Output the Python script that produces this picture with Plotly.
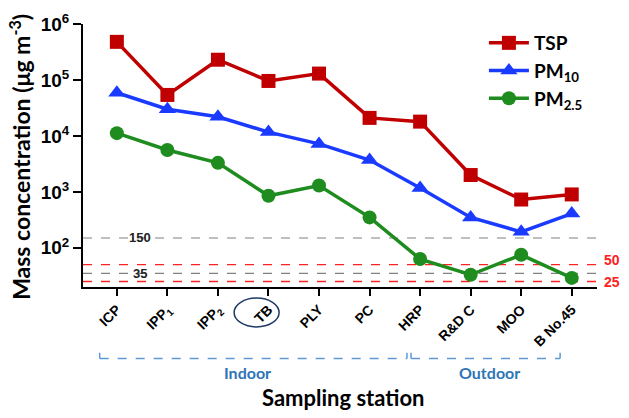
import plotly.graph_objects as go
import numpy as np

stations = ["ICP", "IPP<sub>1</sub>", "IPP<sub>2</sub>", "TB", "PLY", "PC", "HRP", "R&D C", "MOO", "B No.45"]
tsp = [480000, 54000, 230000, 96000, 130000, 21000, 18000, 2000, 730, 900]
pm10 = [59000, 30000, 22000, 11700, 7200, 3700, 1170, 350, 193, 410]
pm25 = [11200, 5600, 3300, 850, 1300, 350, 63, 33, 75, 29]
gray_refs = [150, 35]
red_refs = [50, 25]
ytick_vals = [100, 1000, 10000, 100000, 1000000]
ytick_text = ["10<sup>2</sup>", "10<sup>3</sup>", "10<sup>4</sup>", "10<sup>5</sup>", "10<sup>6</sup>"]

x = list(range(len(stations)))
xr = [-0.67, 9.5]

fig = go.Figure()

for v in gray_refs:
    fig.add_trace(go.Scatter(x=xr, y=[v, v], mode="lines", showlegend=False,
                             line=dict(color="#808080", width=1.2, dash="dash"), hoverinfo="skip"))
for v in red_refs:
    fig.add_trace(go.Scatter(x=xr, y=[v, v], mode="lines", showlegend=False,
                             line=dict(color="#FF2020", width=1.4, dash="dash"), hoverinfo="skip"))

fig.add_trace(go.Scatter(x=x, y=tsp, name="TSP", mode="lines+markers",
                         line=dict(color="#C00000", width=3.5),
                         marker=dict(symbol="square", size=14, color="#C00000")))
fig.add_trace(go.Scatter(x=x, y=pm10, name="PM<sub>10</sub>", mode="lines+markers",
                         line=dict(color="#1A3BFF", width=3.5),
                         marker=dict(symbol="triangle-up", size=15, color="#1A3BFF")))
fig.add_trace(go.Scatter(x=x, y=pm25, name="PM<sub>2.5</sub>", mode="lines+markers",
                         line=dict(color="#1E8C1E", width=3.5),
                         marker=dict(symbol="circle", size=14, color="#1E8C1E")))

fig.update_layout(
    width=621, height=410,
    margin=dict(l=75, r=32, t=16, b=131, autoexpand=False),
    plot_bgcolor="white", paper_bgcolor="white",
    font=dict(family="Liberation Sans, Arial", color="black"),
    showlegend=True,
    legend=dict(x=0.78, y=1.0, xanchor="left", yanchor="top",
                font=dict(family="Lato, Liberation Sans", size=19, weight="bold", color="black"),
                bgcolor="rgba(0,0,0,0)", itemwidth=40, tracegroupgap=0),
    xaxis=dict(range=xr, tickmode="array", tickvals=x, ticktext=stations, automargin=False,
               tickangle=-45, showline=True, linecolor="black", linewidth=2,
               ticks="outside", ticklen=7, tickwidth=2, tickcolor="black",
               showgrid=False, zeroline=False,
               tickfont=dict(size=14, weight="bold", family="Liberation Sans, Arial")),
    yaxis=dict(type="log", range=[1.30, 6.0], tickmode="array", tickvals=ytick_vals, automargin=False,
               ticktext=ytick_text, showline=True, linecolor="black", linewidth=2,
               ticks="outside", ticklen=8, tickwidth=2, tickcolor="black",
               showgrid=False, zeroline=False,
               tickfont=dict(size=19, weight="bold", family="Liberation Sans, Arial")),
)

anns = []
anns.append(dict(x=0.45, y=np.log10(gray_refs[0]), xref="x", yref="y", text="150", showarrow=False,
                 font=dict(size=13, weight="bold", color="#222222"), yanchor="middle"))
anns.append(dict(x=0.45, y=np.log10(gray_refs[1]), xref="x", yref="y", text="35", showarrow=False,
                 font=dict(size=13, weight="bold", color="#222222"), yanchor="middle"))
anns.append(dict(x=1.0, y=np.log10(red_refs[0]) + 0.08, xref="paper", yref="y", text="50", showarrow=False,
                 xanchor="left", yanchor="middle", xshift=5, font=dict(size=14, weight="bold", color="#FF2020")))
anns.append(dict(x=1.0, y=np.log10(red_refs[1]), xref="paper", yref="y", text="25", showarrow=False,
                 xanchor="left", yanchor="middle", xshift=5, font=dict(size=14, weight="bold", color="#FF2020")))
anns.append(dict(x=-0.123, y=0.494, xref="paper", yref="paper", text="Mass concentration (μg m<sup>-3</sup>)",
                 textangle=-90, showarrow=False, xanchor="center", yanchor="middle",
                 font=dict(family="Lato, Liberation Sans", size=23, weight="bold", color="black")))
anns.append(dict(x=2.58, y=-0.324, xref="x", yref="paper", text="Indoor", showarrow=False,
                 xanchor="center", yanchor="middle",
                 font=dict(family="Lato, Liberation Sans", size=16, weight="bold", color="#2E75B6")))
anns.append(dict(x=7.38, y=-0.324, xref="x", yref="paper", text="Outdoor", showarrow=False,
                 xanchor="center", yanchor="middle",
                 font=dict(family="Lato, Liberation Sans", size=16, weight="bold", color="#2E75B6")))
anns.append(dict(x=4.49, y=-0.422, xref="x", yref="paper", text="Sampling station", showarrow=False,
                 xanchor="center", yanchor="middle",
                 font=dict(family="Lato, Liberation Sans", size=22, weight="bold", color="black")))
fig.update_layout(annotations=anns)

bc = "#5B9BD5"
shapes = []
for (a, b) in [(-0.34, 5.74), (5.82, 8.77)]:
    shapes.append(dict(type="line", xref="x", yref="paper", x0=a, x1=b, y0=-0.272, y1=-0.272,
                       line=dict(color=bc, width=1.5, dash="dash")))
    for e in (a, b):
        shapes.append(dict(type="line", xref="x", yref="paper", x0=e, x1=e, y0=-0.272, y1=-0.25,
                           line=dict(color=bc, width=1.5)))
shapes.append(dict(type="circle", xref="x", yref="paper", x0=2.32, x1=3.21, y0=-0.152, y1=-0.042,
                   line=dict(color="#1F3864", width=1.5)))
fig.update_layout(shapes=shapes)

fig.write_html("out.html")
